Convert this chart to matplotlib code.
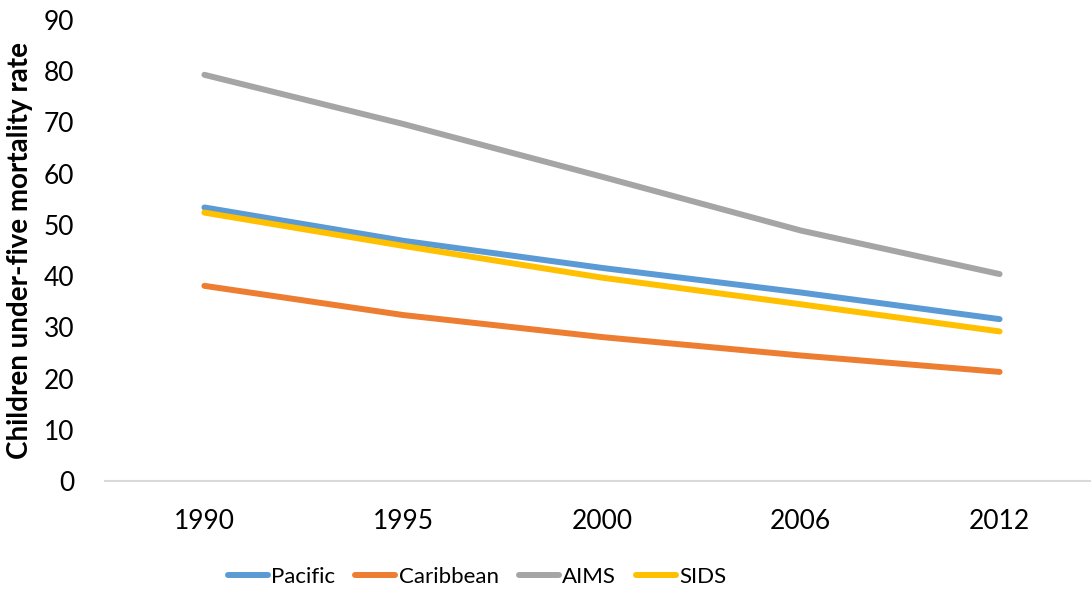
import matplotlib.pyplot as plt

years = ["1990", "1995", "2000", "2006", "2012"]
pacific = [53.4, 46.9, 41.6, 36.8, 31.6]
caribbean = [38.1, 32.4, 28.1, 24.5, 21.3]
aims = [79.3, 69.7, 59.4, 48.9, 40.4]
sids = [52.4, 45.9, 39.7, 34.5, 29.2]

series = [
    ("Pacific", pacific, "#5B9BD5"),
    ("Caribbean", caribbean, "#ED7D31"),
    ("AIMS", aims, "#A5A5A5"),
    ("SIDS", sids, "#FFC000"),
]

plt.rcParams["font.family"] = ["Lato", "DejaVu Sans"]

fig = plt.figure(figsize=(10.91, 5.9), dpi=100)
ax = fig.add_axes([105 / 1091, 109 / 590, 994 / 1091, 461 / 590])

x = list(range(len(years)))
for name, vals, color in series:
    ax.plot(x, vals, color=color, lw=4.3, solid_capstyle="round",
            solid_joinstyle="round", label=name)

ax.set_xlim(-0.5, len(years) - 0.5)
ax.set_ylim(0, 90)
ax.set_yticks(range(0, 91, 10))
ax.set_xticks(x)
ax.set_xticklabels(years)
ax.tick_params(axis="both", length=0, labelsize=19, colors="#000000")
ax.tick_params(axis="y", pad=22)
ax.tick_params(axis="x", pad=20)

for side in ["top", "right", "left"]:
    ax.spines[side].set_visible(False)
ax.spines["bottom"].set_color("#D9D9D9")
ax.spines["bottom"].set_linewidth(1.5)

ax.set_ylabel("Children under-five mortality rate", fontsize=20,
              fontweight="bold")
ax.yaxis.set_label_coords(-72 / 994, 0.5)

fig.legend(loc="center", bbox_to_anchor=(477 / 1091, 1 - 577 / 590),
           ncol=4, frameon=False, fontsize=16, handlelength=1.8,
           handletextpad=0.15, columnspacing=0.9)

fig.savefig("out.png", dpi=100)
